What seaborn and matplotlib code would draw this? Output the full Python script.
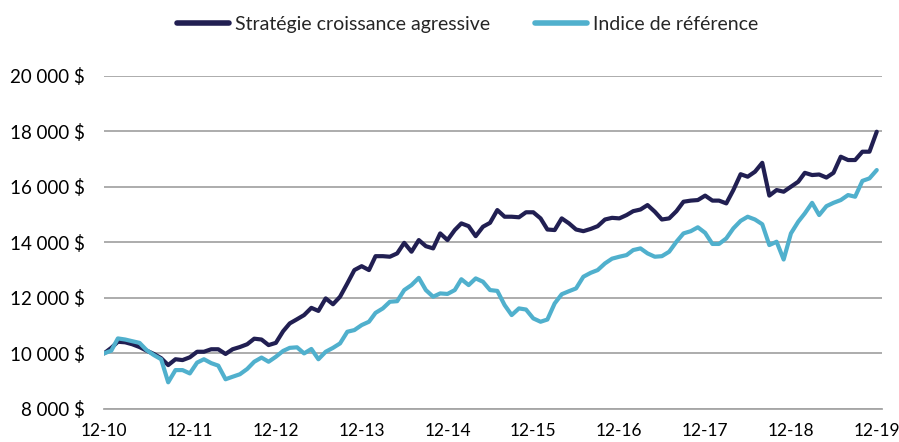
import pandas as pd
import matplotlib.pyplot as plt
import matplotlib.dates as mdates
import matplotlib.ticker as mticker
import seaborn as sns

# Monthly values, Dec 2010 -> Dec 2019
strategie = [
    10000, 10200, 10420, 10400, 10330, 10230, 10100, 9980, 9830, 9580, 9790, 9760,
    9860, 10060, 10060, 10150, 10150, 9980, 10150, 10230, 10330, 10530, 10500, 10300,
    10380, 10800, 11080, 11230, 11380, 11640, 11530, 11980, 11770, 12040, 12520, 13000,
    13140, 13000, 13500, 13500, 13480, 13600, 13980, 13660, 14080, 13860, 13780, 14320,
    14080, 14440, 14680, 14580, 14220, 14560, 14700, 15160, 14920, 14920, 14900, 15080,
    15080, 14860, 14460, 14440, 14860, 14680, 14460, 14400, 14480, 14580, 14820, 14880,
    14860, 14980, 15120, 15180, 15340, 15100, 14820, 14860, 15120, 15460, 15500, 15520,
    15680, 15500, 15500, 15400, 15880, 16450, 16360, 16540, 16860, 15680, 15880, 15820,
    16000, 16180, 16500, 16420, 16440, 16330, 16500, 17080, 16960, 16960, 17260, 17260,
    17980,
]
indice = [
    10000, 10100, 10540, 10500, 10440, 10380, 10120, 9940, 9790, 8960, 9400, 9400,
    9280, 9670, 9790, 9650, 9560, 9070, 9160, 9250, 9440, 9700, 9850, 9700,
    9880, 10090, 10200, 10220, 10000, 10160, 9790, 10060, 10200, 10360, 10780, 10840,
    11020, 11140, 11460, 11620, 11860, 11880, 12280, 12460, 12720, 12280, 12040, 12160,
    12140, 12280, 12670, 12460, 12700, 12580, 12280, 12250, 11740, 11380, 11620, 11580,
    11260, 11140, 11220, 11800, 12130, 12240, 12340, 12760, 12900, 13000, 13240, 13410,
    13480, 13540, 13720, 13780, 13600, 13480, 13500, 13660, 14020, 14320, 14400, 14540,
    14340, 13940, 13940, 14140, 14500, 14770, 14920, 14820, 14650, 13900, 14020, 13380,
    14320, 14740, 15040, 15420, 14980, 15300, 15420, 15520, 15700, 15640, 16210, 16300,
    16600,
]
series_names = ["Stratégie croissance agressive", "Indice de référence"]
colors = ["#211f52", "#50b0cd"]

dates = pd.date_range("2010-12-31", periods=len(strategie), freq="ME")
df = pd.DataFrame({
    "date": list(dates) * 2,
    "valeur": strategie + indice,
    "serie": [series_names[0]] * len(strategie) + [series_names[1]] * len(indice),
})

sns.set_style("white")
plt.rcParams["font.family"] = ["Lato", "DejaVu Sans"]

fig = plt.figure(figsize=(8.99, 4.42), dpi=100)
ax = fig.add_axes([0.1157, 0.0747, 0.8653, 0.7543])

sns.lineplot(data=df, x="date", y="valeur", hue="serie", hue_order=series_names,
             palette=colors, linewidth=3.0, ax=ax, solid_capstyle="round")

ax.set_ylim(8000, 20000)
ax.set_xlim(pd.Timestamp("2010-12-31"), pd.Timestamp("2020-01-22"))
ax.yaxis.set_major_locator(mticker.MultipleLocator(2000))
ax.yaxis.set_major_formatter(mticker.FuncFormatter(lambda v, p: f"{int(v):,}".replace(",", " ") + " $"))
ax.xaxis.set_major_locator(mdates.MonthLocator(bymonth=12, bymonthday=31))
ax.xaxis.set_major_formatter(mdates.DateFormatter("%m-%y"))

ax.grid(axis="y", color="#a6a6a6", linewidth=1.3)
ax.grid(axis="x", visible=False)
for side in ["left", "right", "top"]:
    ax.spines[side].set_visible(False)
ax.spines["bottom"].set_color("#a6a6a6")
ax.spines["bottom"].set_linewidth(1.3)
ax.tick_params(axis="y", length=0, pad=14, labelsize=13.5, labelcolor="black")
ax.tick_params(axis="x", length=6, width=1.3, color="#a6a6a6", pad=4,
               labelsize=12.5, labelcolor="black", direction="out")
ax.set_xlabel("")
ax.set_ylabel("")

leg = ax.legend(loc="center", bbox_to_anchor=(0.52, 0.945), bbox_transform=fig.transFigure,
                ncol=2, frameon=False, fontsize=14, handlelength=2.7,
                handletextpad=0.3, columnspacing=2.3)
for line in leg.get_lines():
    line.set_linewidth(4)

plt.savefig("out.png", dpi=100)
